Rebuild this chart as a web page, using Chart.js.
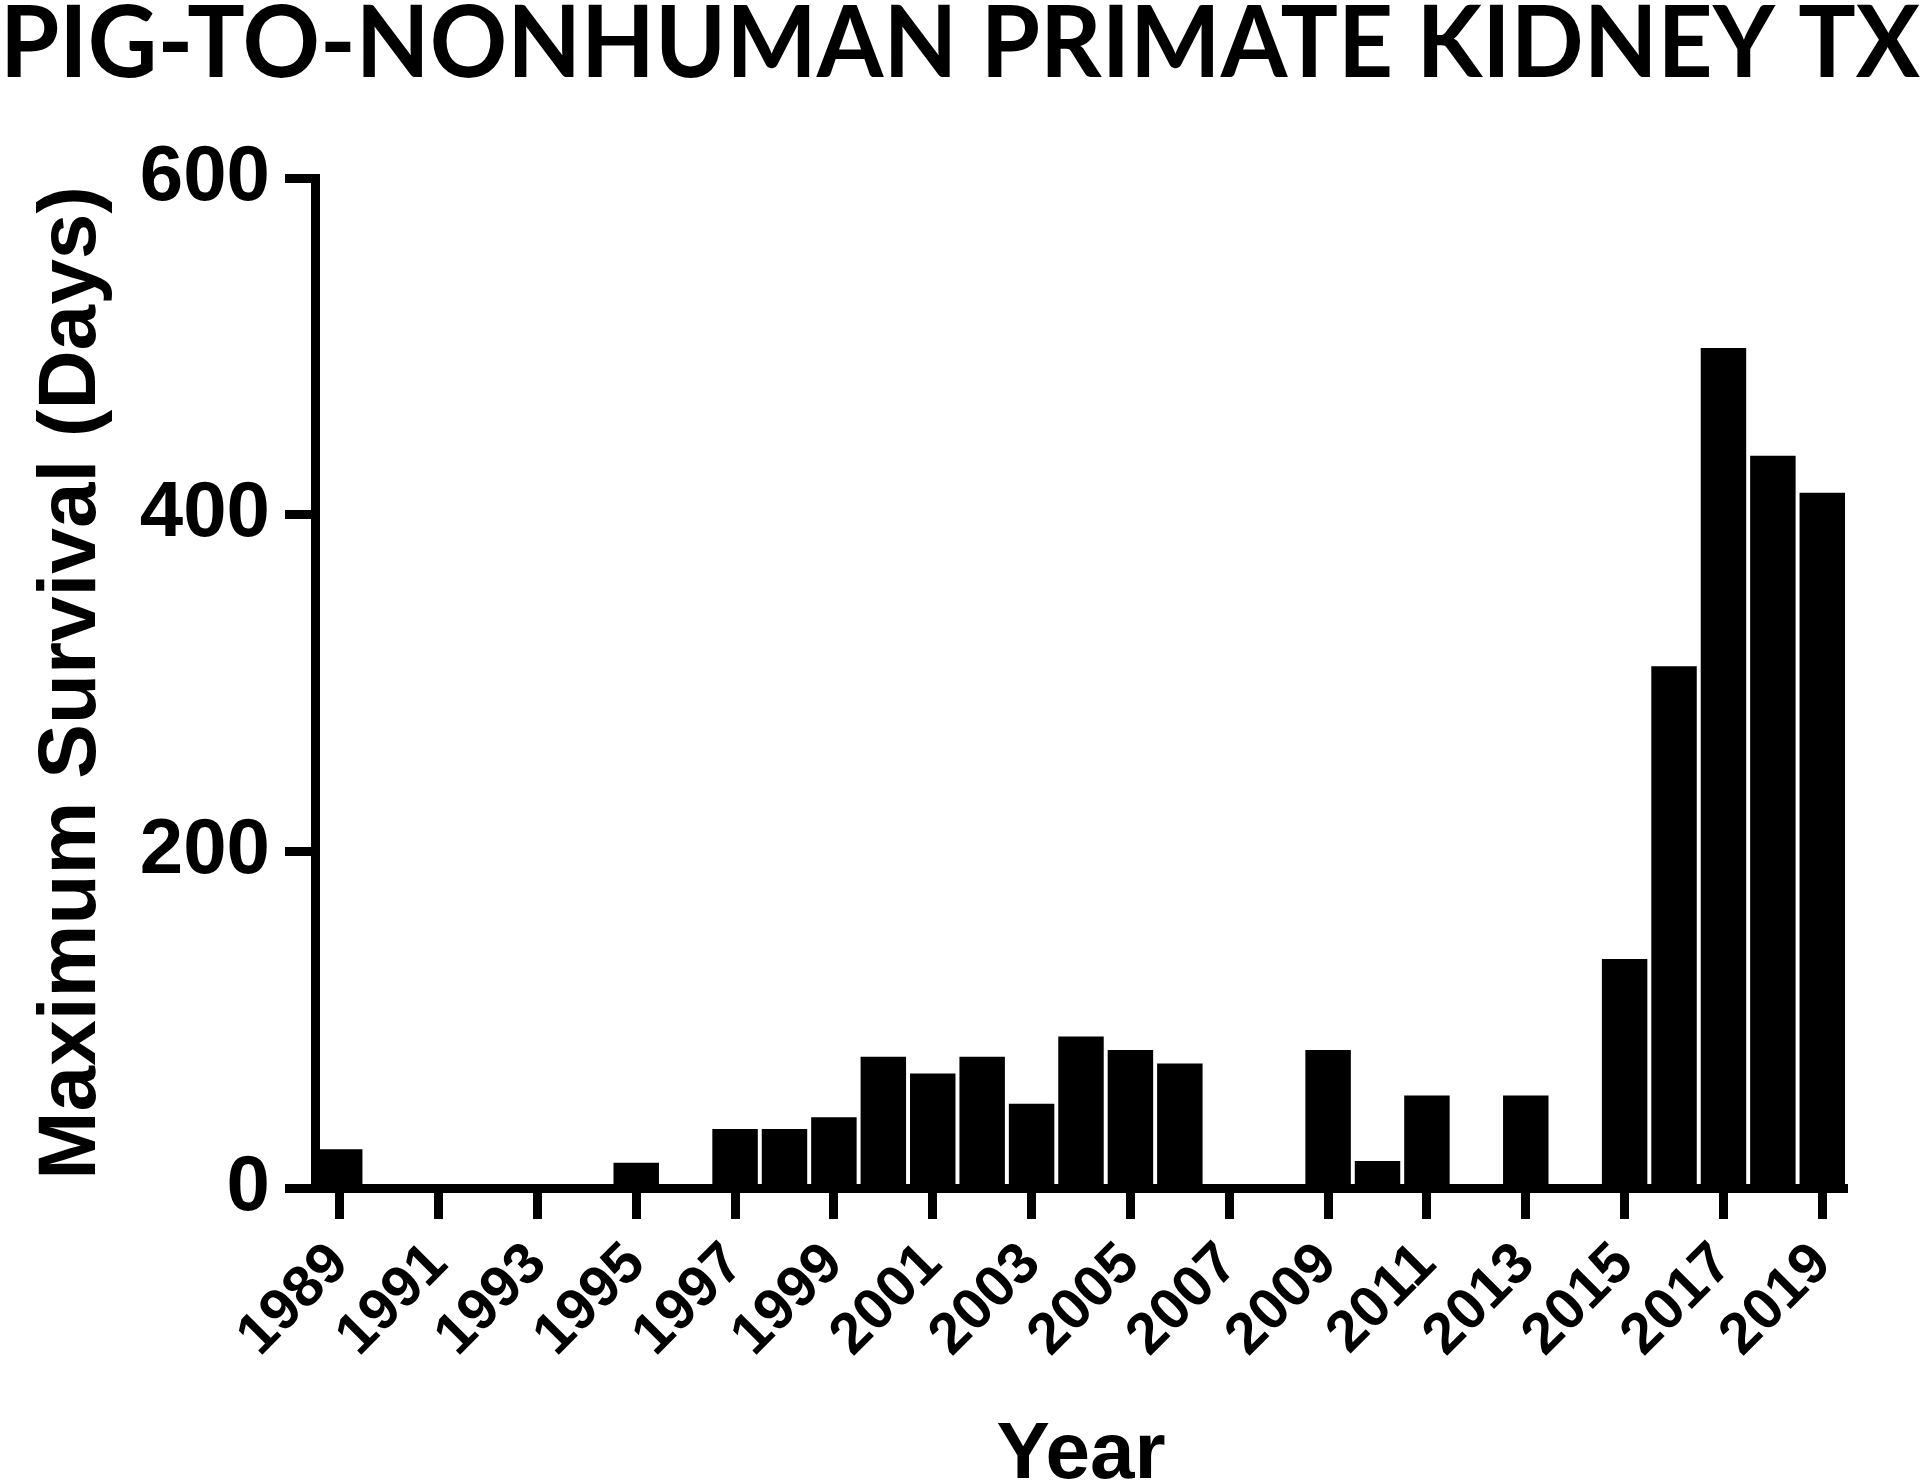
<!DOCTYPE html>
<html lang="en">
<head>
<meta charset="UTF-8">
<title>Pig-to-nonhuman primate kidney TX</title>
<script src="https://cdn.jsdelivr.net/npm/chart.js@4/dist/chart.umd.min.js"></script>
<style>
    html, body { margin: 0; padding: 0; background: #fff; overflow: hidden; }
    canvas { display: block; }
</style>
</head>
<body>
<canvas id="survivalChart" width="1920" height="1480"></canvas>
<script>
// Данные графика
const years = [
    '1989', '1990', '1991', '1992', '1993', '1994', '1995', '1996',
    '1997', '1998', '1999', '2000', '2001', '2002', '2003', '2004',
    '2005', '2006', '2007', '2008', '2009', '2010', '2011', '2012',
    '2013', '2014', '2015', '2016', '2017', '2018', '2019'
];
const survivalDays = [
    23, 0, 0, 0, 0, 0, 15, 0,
    35, 35, 42, 78, 68, 78, 50, 90,
    82, 74, 0, 0, 82, 16, 55, 0,
    55, 0, 136, 310, 499, 435, 413
];
const labeledYears = [
    '1989', '1991', '1993', '1995', '1997', '1999', '2001', '2003',
    '2005', '2007', '2009', '2011', '2013', '2015', '2017', '2019'
];
const yTicks = [0, 200, 400, 600];

const axisFont = "'Liberation Sans', Arial, sans-serif";

// Конфигурация графика
const chartConfig = {
    type: 'bar',
    data: {
        labels: years,
        datasets: [{
            label: 'Maximum Survival (Days)',
            data: survivalDays,
            backgroundColor: '#000',
            borderWidth: 0,
            barPercentage: 0.92,
            categoryPercentage: 1.0
        }]
    },
    options: {
        responsive: false,
        animation: false,
        layout: { padding: 0 },
        plugins: {
            legend: { display: false },
            tooltip: { enabled: false },
            title: {
                display: true,
                text: 'PIG-TO-NONHUMAN PRIMATE KIDNEY TX',
                color: '#000',
                font: { family: 'Lato', size: 100, weight: 'bold', lineHeight: 0.9 },
                padding: { top: 0, bottom: 88 }
            }
        },
        scales: {
            x: {
                grid: {
                    offset: false,
                    drawOnChartArea: false,
                    tickLength: 31,
                    tickWidth: 9,
                    tickColor: '#000'
                },
                border: { color: '#000', width: 9 },
                ticks: {
                    autoSkip: false,
                    minRotation: 45,
                    maxRotation: 45,
                    padding: 11,
                    color: '#000',
                    font: { family: axisFont, size: 58, weight: 'bold' },
                    callback: function (value) {
                        const label = this.getLabelForValue(value);
                        return labeledYears.includes(label) ? label : null;
                    }
                },
                title: {
                    display: true,
                    text: 'Year',
                    color: '#000',
                    font: { family: axisFont, size: 80, weight: 'bold', lineHeight: 0.6 },
                    padding: 0
                },
                afterFit: (scale) => { scale.height = 292; }
            },
            y: {
                min: 0,
                max: 600,
                afterBuildTicks: (scale) => {
                    scale.ticks = yTicks.map(v => ({ value: v }));
                },
                grid: {
                    drawOnChartArea: false,
                    tickLength: 30,
                    tickWidth: 9,
                    tickColor: '#000'
                },
                border: { color: '#000', width: 9 },
                ticks: {
                    padding: 15,
                    color: '#000',
                    font: { family: axisFont, size: 78, weight: 'bold' }
                },
                title: {
                    display: true,
                    text: 'Maximum Survival (Days)',
                    color: '#000',
                    font: { family: axisFont, size: 82, weight: 'bold' },
                    padding: { top: 23, bottom: 0 }
                },
                afterFit: (scale) => { scale.width = 315; }
            },
            // пустая ось справа — только отступ
            yRight: {
                type: 'linear',
                position: 'right',
                grid: { display: false },
                border: { display: false },
                ticks: { display: false },
                afterFit: (scale) => { scale.width = 73; }
            }
        }
    }
};

// Инициализация при загрузке страницы
function initChart() {
    new Chart(document.getElementById('survivalChart'), chartConfig);
}

document.addEventListener('DOMContentLoaded', initChart);
</script>
</body>
</html>
